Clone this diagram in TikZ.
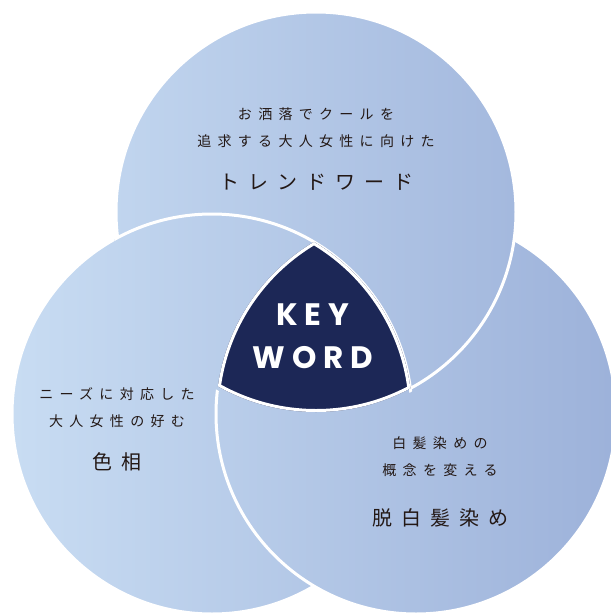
\documentclass[tikz,border=0pt]{standalone}
\usepackage{fontspec}
\newfontfamily\jplead{Noto Sans CJK JP}[LetterSpace=45]
\newfontfamily\jptitle{Noto Sans CJK JP}[LetterSpace=45]
\newfontfamily\keyfont{Poppins}[LetterSpace=22]
\definecolor{pale}{HTML}{C9DDF3}
\definecolor{deep}{HTML}{9DB2DA}
\definecolor{navy}{HTML}{1C2756}
\definecolor{ink}{HTML}{231815}

\tikzset{
  rim/.style={draw=white, line width=3pt},
  lead/.style={font=\jplead\fontsize{14pt}{27pt}\selectfont, text=ink, align=center},
  title/.style={font=\jptitle\fontsize{20pt}{24pt}\selectfont, text=ink},
  keytext/.style={font=\keyfont\bfseries\fontsize{31pt}{43pt}\selectfont, text=white, align=center}
}
% shaded disc, one gradient over the whole picture
\newcommand\vdisc[1]{%
  \begin{scope}
    \clip (#1) circle (200);
    \shade[left color=pale, right color=deep] (0,0) rectangle (611,614);
  \end{scope}}

\begin{document}
\begin{tikzpicture}[x=1pt,y=-1pt]
\useasboundingbox (0,0) rectangle (611,614);
\clip (0,0) rectangle (611,614);
\fill[white] (0,0) rectangle (611,614);
\coordinate (ctop) at (316,212);
\coordinate (cleft) at (212,414);
\coordinate (cright) at (416,414);
% left, then right over left, then top over right
\vdisc{cleft}
\draw[rim] (cleft) circle (200);
\vdisc{cright}
\draw[rim] (cright) circle (200);
\vdisc{ctop}
\draw[rim] (ctop) circle (200);
% left back over top
\begin{scope}
  \clip (ctop) circle (203.5);
  \vdisc{cleft}
  \draw[rim] (cleft) circle (200);
\end{scope}
% centre
\begin{scope}
  \clip (ctop) circle (200);
  \clip (cleft) circle (200);
  \clip (cright) circle (200);
  \fill[navy] (0,0) rectangle (611,614);
  \draw[rim, line width=6pt] (ctop) circle (200) (cleft) circle (200) (cright) circle (200);
\end{scope}
\node[lead] (toplead) at (316,128) {お洒落でクールを\\追求する大人女性に向けた};
\node[title] (toptitle) at (316,182) {トレンドワード};
\node[lead] (leftlead) at (117,408) {ニーズに対応した\\大人女性の好む};
\node[title] (lefttitle) at (117,462) {色相};
\node[lead] (rightlead) at (440,457) {白髪染めの\\概念を変える};
\node[title] (righttitle) at (440,518) {脱白髪染め};
\node[keytext] (keyword) at (313,336) {KEY\\WORD};
\end{tikzpicture}
\end{document}
